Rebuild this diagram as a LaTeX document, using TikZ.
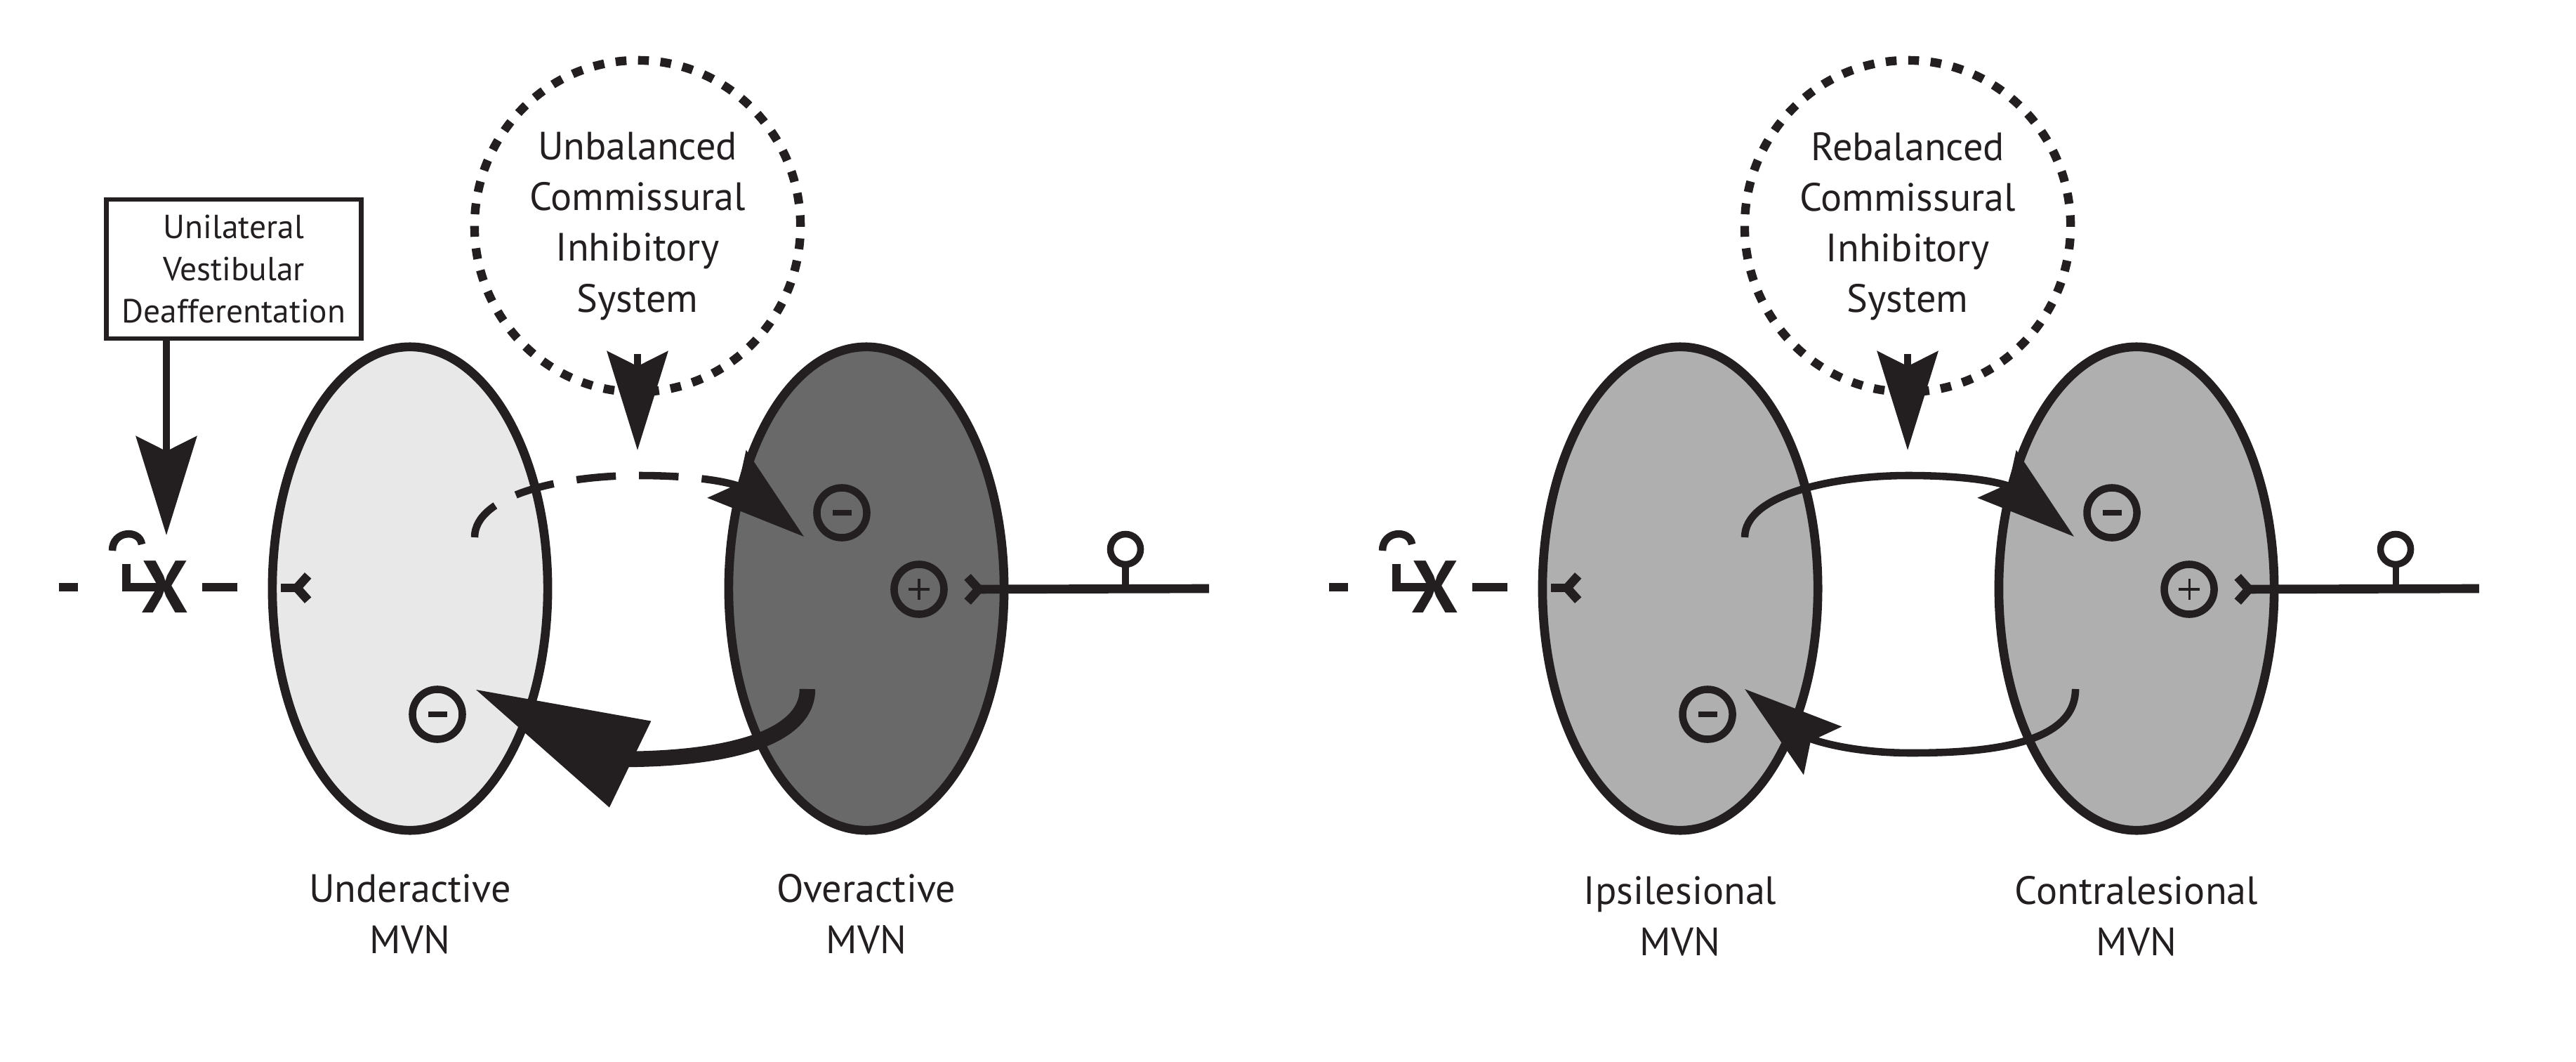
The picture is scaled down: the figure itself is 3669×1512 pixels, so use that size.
\documentclass[tikz,border=0pt]{standalone}
\usepackage{fontspec}
\setmainfont{PT Sans}
\usetikzlibrary{arrows.meta, positioning, shapes.geometric, calc}
\definecolor{ink}{HTML}{231F20}
\definecolor{lowgray}{HTML}{E8E8E8}
\definecolor{highgray}{HTML}{686968}
\definecolor{midgray}{HTML}{AFAFAF}

\tikzset{
  nucleus/.style={ellipse, draw=ink, line width=3.6pt, minimum width=3.92cm, minimum height=6.88cm, inner sep=0pt},
  cis/.style={ellipse, draw=ink, line width=3.5pt, dash pattern=on 4.4pt off 4.69pt, minimum width=4.64cm, minimum height=4.72cm, align=center, inner sep=0pt, font=\fontsize{16}{20.5}\selectfont},
  lbl/.style={align=center, inner sep=0pt, font=\fontsize{16}{20.8}\selectfont},
  box/.style={rectangle, draw=ink, line width=1.8pt, minimum width=3.63cm, minimum height=1.98cm, align=center, inner sep=0pt, font=\fontsize{13.5}{17}\selectfont},
  sign/.style={circle, draw=ink, line width=3pt, minimum size=0.71cm, inner sep=0pt},
  negsign/.style={sign, path picture={\fill[ink] ($(path picture bounding box.center)+(-0.135cm,-0.04cm)$) rectangle ++(0.27cm,0.08cm);}},
  possign/.style={sign, path picture={\draw[ink, line width=0.9pt] ($(path picture bounding box.center)+(-0.15cm,0)$) -- ++(0.3cm,0) ($(path picture bounding box.center)+(0,-0.15cm)$) -- ++(0,0.3cm);}},
  bouton/.style={circle, draw=ink, line width=2.7pt, fill=white, minimum size=0.43cm, inner sep=0pt},
  cross/.style={inner sep=0pt, font=\fontsize{30}{30}\selectfont\bfseries},
  axon/.style={line width=3.6pt},
  stem/.style={line width=2.6pt},
  shaft/.style={line width=3pt},
  commis/.style={line width=3pt},
  fork/.style={-{Straight Barb[reversed, length=4.5pt, width=10pt]}},
  bigtip/.style={-{Stealth[length=40pt, width=24.5pt, inset=6pt]}},
  hugetip/.style={-{Stealth[length=70pt, width=37pt, inset=0pt]}}
}

\begin{document}
\begin{tikzpicture}[x=0.01cm, y=-0.01cm, color=ink]
\useasboundingbox (0,0) rectangle (3669,1512);

% ---- left panel: after the lesion ----
\node (uMVN) [nucleus, fill=lowgray] at (584,838) {};
\node (oMVN) [nucleus, fill=highgray] at (1234,838) {};
\node (uLbl) [lbl, below=0.55cm of uMVN] {Underactive\\MVN};
\node (oLbl) [lbl, below=0.55cm of oMVN] {Overactive\\MVN};

\node (uvd) [box] at (333,383) {Unilateral\\Vestibular\\Deafferentation};
\node (cisL) [cis] at (908,322) {Unbalanced\\Commissural\\Inhibitory\\System};

% cut afferent
\draw[axon] (84,836) -- (111,836);
\draw[axon, line width=3pt] (160,784) .. controls (160,755) and (199,753) .. (202,775);
\draw[axon] (180,803) -- (180,836) -- (225,836);
\node (xL) [cross] at (235,836) {X};
\draw[axon] (288,836) -- (338,836);
\draw[axon, fork] (400,837) -- (445,837);

% intact afferent
\node (mO) [negsign] at (1199,730) {};
\node (pO) [possign] at (1309,839) {};
\node (mU) [negsign] at (623,1017) {};
\coordinate (inO) at (1722,838);
\node (bO) [bouton] at (1603,782) {};
\draw[stem] (bO.south) -- (bO.south |- inO);
\draw[axon, fork] (inO) -- ($(pO.east)+(22,0)$);

% arrows
\coordinate (lesL) at (237,762);
\draw[shaft, bigtip] (uvd.south -| lesL) -- (lesL);
\coordinate (cisTipL) at (908,641);
\draw[shaft, bigtip] ($(cisL.south)+(0,-60)$) -- (cisTipL);

\coordinate (srcU) at (676,765);
\coordinate (topTipL) at (1145,764);
\draw[commis, dash pattern=on 16pt off 9.4pt, bigtip] (srcU) .. controls (676,705) and (800,677) .. (909,677) .. controls (975,677) and (1032,683) .. (1060,695) -- (topTipL);

\coordinate (srcO) at (1150,981);
\coordinate (botTipL) at (676,981);
\draw[line width=6.4pt, hugetip] (srcO) .. controls (1150,1050) and (1040,1081) .. (883,1081) -- (botTipL);

% ---- right panel: after compensation ----
\begin{scope}[xshift=18.08cm]
\node (iMVN) [nucleus, fill=midgray] at (584,838) {};
\node (cMVN) [nucleus, fill=midgray] at (1234,838) {};
\node (iLbl) [lbl, below=0.58cm of iMVN] {Ipsilesional\\MVN};
\node (cLbl) [lbl, below=0.58cm of cMVN] {Contralesional\\MVN};

\node (cisR) [cis] at (908,322) {Rebalanced\\Commissural\\Inhibitory\\System};

% cut afferent
\draw[axon] (84,836) -- (111,836);
\draw[axon, line width=3pt] (160,784) .. controls (160,755) and (199,753) .. (202,775);
\draw[axon] (180,803) -- (180,836) -- (225,836);
\node (xR) [cross] at (235,836) {X};
\draw[axon] (288,836) -- (338,836);
\draw[axon, fork] (400,837) -- (445,837);

% intact afferent
\node (mC) [negsign] at (1199,730) {};
\node (pC) [possign] at (1309,839) {};
\node (mI) [negsign] at (623,1017) {};
\coordinate (inC) at (1722,838);
\node (bC) [bouton] at (1603,782) {};
\draw[stem] (bC.south) -- (bC.south |- inC);
\draw[axon, fork] (inC) -- ($(pC.east)+(22,0)$);

% arrows
\coordinate (cisTipR) at (908,641);
\draw[shaft, bigtip] ($(cisR.south)+(0,-60)$) -- (cisTipR);

\coordinate (srcI) at (676,765);
\coordinate (topTipR) at (1145,764);
\draw[commis, bigtip] (srcI) .. controls (676,705) and (800,677) .. (909,677) .. controls (975,677) and (1032,683) .. (1060,695) -- (topTipR);

\coordinate (srcC) at (1147,981);
\coordinate (botTipR) at (676,981);
\draw[commis, bigtip] (srcC) .. controls (1147,1060) and (1022,1072) .. (913,1072) .. controls (850,1072) and (795,1062) .. (762,1049) -- (botTipR);
\end{scope}

\end{tikzpicture}
\end{document}
